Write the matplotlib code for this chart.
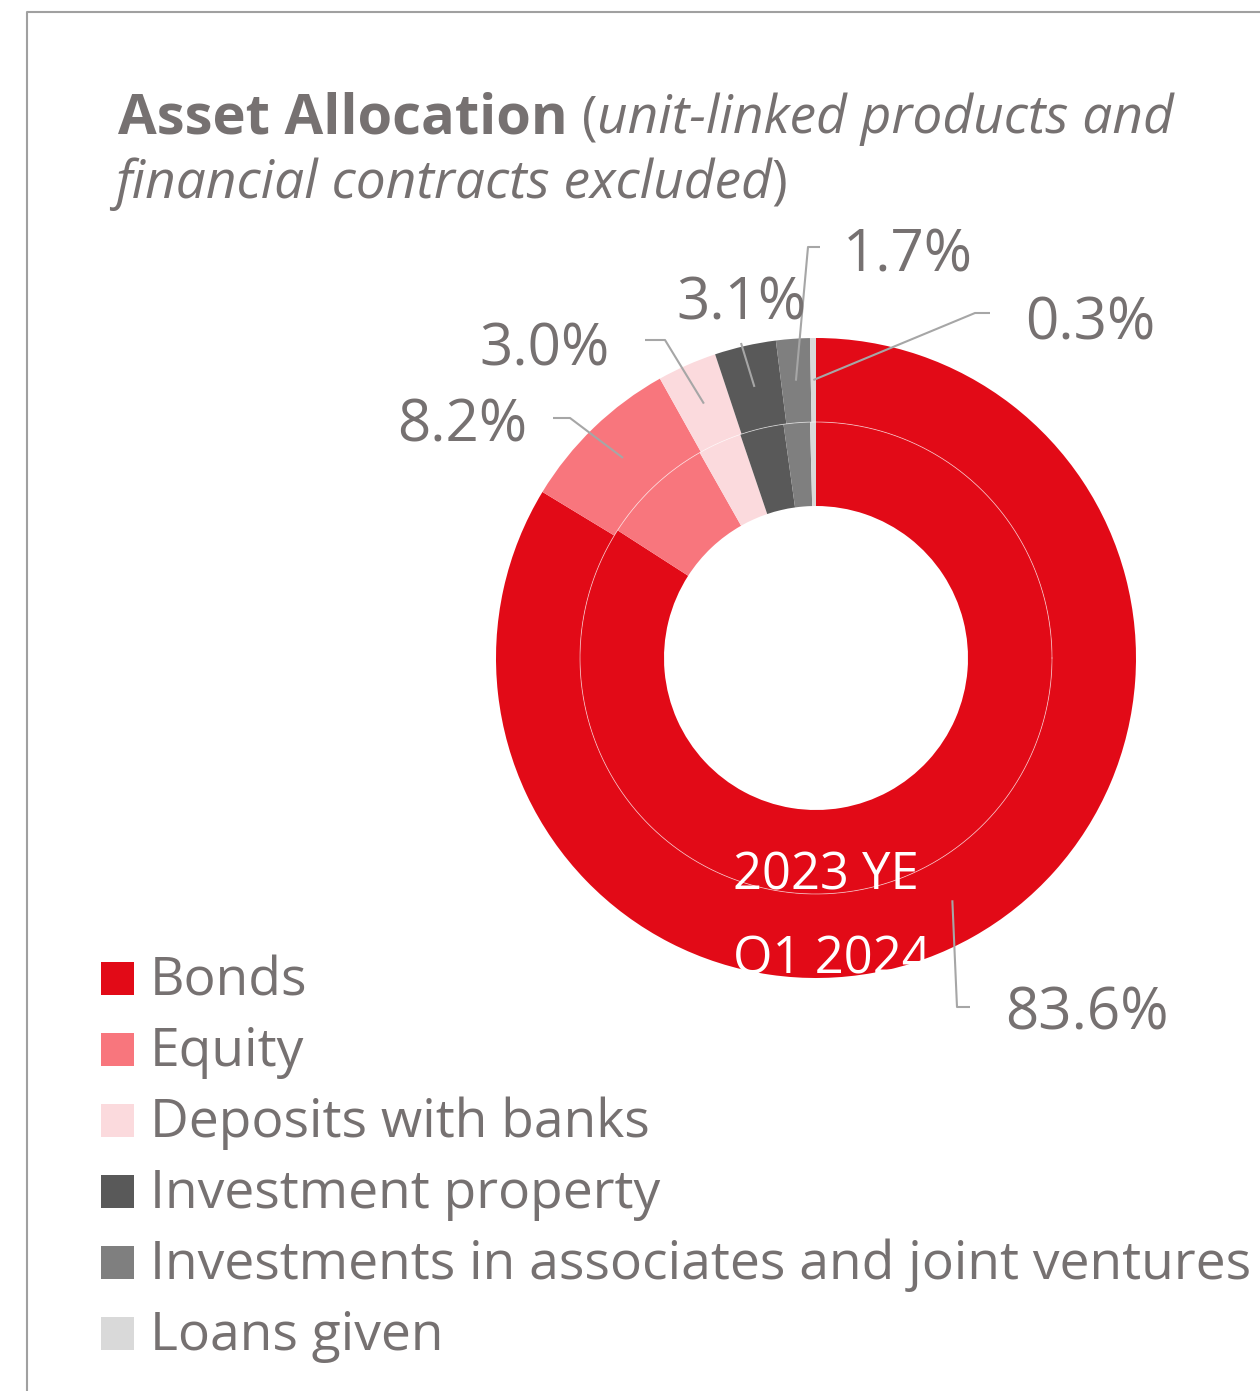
import matplotlib
matplotlib.use("Agg")
import numpy as np
from matplotlib import pyplot as plt

# Asset allocation, % (outer ring = Q1 2024, inner ring = 2023 YE)
categories = ["Bonds", "Equity", "Deposits with banks", "Investment property",
              "Investments in associates and joint ventures", "Loans given"]
q1_2024 = [83.6, 8.2, 3.0, 3.1, 1.7, 0.3]
ye_2023 = [84.1, 7.7, 3.0, 3.0, 1.8, 0.4]
labels = ["83.6%", "8.2%", "3.0%", "3.1%", "1.7%", "0.3%"]
colors = ["#E20A17", "#F8767D", "#FBDADD", "#595959", "#7F7F7F", "#D9D9D9"]

GREY = "#767171"
LINE = "#A6A6A6"
FONT = "Open Sans"
W, H = 1260, 1391

fig = plt.figure(figsize=(W / 100, H / 100), dpi=100)
ax = fig.add_axes([0, 0, 1, 1])


def Y(y):
    # image pixel row -> data y
    return H - y


cx, cy = 816, Y(658)
outer_wedges, _ = ax.pie(q1_2024, radius=320, center=(cx, cy), startangle=90,
                         counterclock=False, colors=colors,
                         wedgeprops=dict(width=84, linewidth=0))
ax.pie(ye_2023, radius=236, center=(cx, cy), startangle=90, counterclock=False,
       colors=colors, wedgeprops=dict(width=84, linewidth=0))
t = np.linspace(0, 2 * np.pi, 400)
ax.plot(cx + 236 * np.cos(t), cy + 236 * np.sin(t), color="white", lw=0.6, alpha=0.6)

ax.set_xlim(0, W)
ax.set_ylim(0, H)
ax.set_aspect("equal")
ax.axis("off")

# leader layout: (elbow, end, text x, text baseline, ha)
layout = [
    ((957, 1007), (970, 1007), 1005, 1030, "left"),
    ((570, 418), (553, 418), 527, 442, "right"),
    ((665, 340), (645, 340), 610, 365, "right"),
    ((741, 343), None, 741, 319, "center"),
    ((808, 247), (820, 247), 843, 272, "left"),
    ((975, 313), (990, 313), 1025, 339, "left"),
]
for w, lab, (elbow, end, tx, ty, ha) in zip(outer_wedges, labels, layout):
    mid = np.deg2rad((w.theta1 + w.theta2) / 2)
    ax0, ay0 = cx + 278 * np.cos(mid), cy + 278 * np.sin(mid)
    xs, ys = [ax0, elbow[0]], [ay0, Y(elbow[1])]
    if end is not None:
        xs.append(end[0]); ys.append(Y(end[1]))
    ax.plot(xs, ys, color=LINE, lw=1.5, solid_capstyle="butt")
    ax.text(tx, Y(ty), lab, ha=ha, va="baseline", fontsize=42,
            color=GREY, family=FONT)

ax.text(733, Y(890), "2023 YE", color="white", fontsize=36.5, family=FONT, va="baseline")
ax.text(733, Y(974), "Q1 2024", color="white", fontsize=36.5, family=FONT, va="baseline")

# legend
for i, (cat, col) in enumerate(zip(categories, colors)):
    base = 995 + 71 * i
    ax.add_patch(plt.Rectangle((101, Y(base)), 33, 33, color=col, lw=0))
    ax.text(150, Y(base), cat, fontsize=38.4, color=GREY, family=FONT, va="baseline")

# title with mixed styles
renderer = fig.canvas.get_renderer()


def run(pieces, x, y):
    for s, weight, style, size in pieces:
        tt = ax.text(x, Y(y), s, fontsize=size, color=GREY, family=FONT,
                     fontweight=weight, fontstyle=style, va="baseline")
        bb = tt.get_window_extent(renderer)
        x += bb.width


run([("Asset Allocation", "bold", "normal", 40.4), (" (", "normal", "normal", 38.3),
     ("unit-linked products and", "normal", "italic", 38.3)], 118, 133)
run([("financial contracts excluded", "normal", "italic", 38.3),
     (")", "normal", "normal", 38.3)], 115, 198)

# frame lines
ax.plot([27, 27, W], [0, Y(12), Y(12)], color="#A0A0A0", lw=1.5)

fig.savefig("out.png", dpi=100)
